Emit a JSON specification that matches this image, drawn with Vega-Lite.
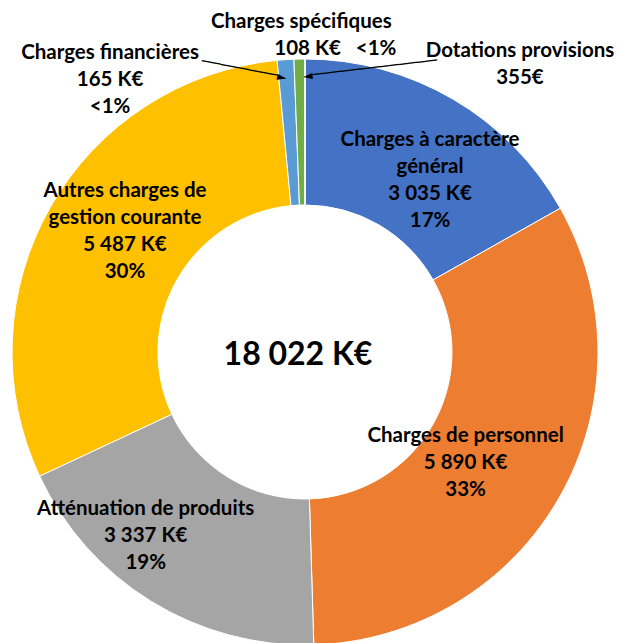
{
  "$schema": "https://vega.github.io/schema/vega-lite/v6.json",
  "width": 619,
  "height": 643,
  "autosize": "none",
  "padding": 0,
  "background": "white",
  "config": {
    "view": {"stroke": null},
    "text": {"font": "Lato", "fontWeight": "bold", "fontSize": 20.5, "lineHeight": 27, "lineBreak": "\n", "color": "black"}
  },
  "data": {
    "values": [
      {"cat": "Charges à caractère général", "value": 3035, "ord": 1, "label": "Charges à caractère\ngénéral\n3 035 K€\n17%"},
      {"cat": "Charges de personnel", "value": 5890, "ord": 2, "label": "Charges de personnel\n5 890 K€\n33%"},
      {"cat": "Atténuation de produits", "value": 3337, "ord": 3, "label": "Atténuation de produits\n3 337 K€\n19%"},
      {"cat": "Autres charges de gestion courante", "value": 5487, "ord": 4, "label": "Autres charges de\ngestion courante\n5 487 K€\n30%"},
      {"cat": "Charges financières", "value": 165, "ord": 5, "label": "Charges financières\n165 K€\n<1%"},
      {"cat": "Charges spécifiques", "value": 108, "ord": 6, "label": "Charges spécifiques", "label2": "108 K€\u00a0\u00a0\u00a0<1%"},
      {"cat": "Dotations provisions", "value": 0.355, "ord": 7, "label": "Dotations provisions\n355€"}
    ]
  },
  "layer": [
    {
      "mark": {"type": "arc", "innerRadius": 147, "outerRadius": 293, "stroke": "white", "strokeWidth": 1, "x": {"expr": "width/2 - 4.5"}, "y": {"expr": "height/2 + 30.5"}},
      "encoding": {
        "theta": {"field": "value", "type": "quantitative", "stack": true},
        "order": {"field": "ord", "type": "quantitative"},
        "color": {"field": "cat", "type": "nominal", "legend": null, "sort": null,
          "scale": {"domain": ["Charges à caractère général", "Charges de personnel", "Atténuation de produits", "Autres charges de gestion courante", "Charges financières", "Charges spécifiques", "Dotations provisions"],
                    "range": ["#4472C4", "#ED7D31", "#A5A5A5", "#FFC000", "#5B9BD5", "#70AD47", "#264478"]}}
      }
    },
    {
      "mark": {"type": "text", "radius": 220, "dx": 14, "dy": -22, "x": {"expr": "width/2 - 4.5"}, "y": {"expr": "height/2 + 30.5"}},
      "encoding": {
        "theta": {"field": "value", "type": "quantitative", "stack": true},
        "order": {"field": "ord", "type": "quantitative"},
        "text": {"condition": {"test": "datum.ord === 1", "field": "label", "type": "nominal"}, "value": ""}
      }
    },
    {
      "mark": {"type": "text", "radius": 220, "dx": -31, "dy": -24, "x": {"expr": "width/2 - 4.5"}, "y": {"expr": "height/2 + 30.5"}},
      "encoding": {
        "theta": {"field": "value", "type": "quantitative", "stack": true},
        "order": {"field": "ord", "type": "quantitative"},
        "text": {"condition": {"test": "datum.ord === 2", "field": "label", "type": "nominal"}, "value": ""}
      }
    },
    {
      "mark": {"type": "text", "radius": 220, "dx": -44, "dy": -30, "x": {"expr": "width/2 - 4.5"}, "y": {"expr": "height/2 + 30.5"}},
      "encoding": {
        "theta": {"field": "value", "type": "quantitative", "stack": true},
        "order": {"field": "ord", "type": "quantitative"},
        "text": {"condition": {"test": "datum.ord === 3", "field": "label", "type": "nominal"}, "value": ""}
      }
    },
    {
      "mark": {"type": "text", "radius": 220, "dx": 11, "dy": -52, "x": {"expr": "width/2 - 4.5"}, "y": {"expr": "height/2 + 30.5"}},
      "encoding": {
        "theta": {"field": "value", "type": "quantitative", "stack": true},
        "order": {"field": "ord", "type": "quantitative"},
        "text": {"condition": {"test": "datum.ord === 4", "field": "label", "type": "nominal"}, "value": ""}
      }
    },
    {
      "mark": {"type": "text", "radius": 300, "dx": -175, "dy": 0, "x": {"expr": "width/2 - 4.5"}, "y": {"expr": "height/2 + 30.5"}},
      "encoding": {
        "theta": {"field": "value", "type": "quantitative", "stack": true},
        "order": {"field": "ord", "type": "quantitative"},
        "text": {"condition": {"test": "datum.ord === 5", "field": "label", "type": "nominal"}, "value": ""}
      }
    },
    {
      "mark": {"type": "text", "radius": 300, "dx": 2, "dy": -30, "x": {"expr": "width/2 - 4.5"}, "y": {"expr": "height/2 + 30.5"}},
      "encoding": {
        "theta": {"field": "value", "type": "quantitative", "stack": true},
        "order": {"field": "ord", "type": "quantitative"},
        "text": {"condition": {"test": "datum.ord === 6", "field": "label", "type": "nominal"}, "value": ""}
      }
    },
    {
      "mark": {"type": "text", "radius": 300, "dx": 36, "dy": -3, "x": {"expr": "width/2 - 4.5"}, "y": {"expr": "height/2 + 30.5"}},
      "encoding": {
        "theta": {"field": "value", "type": "quantitative", "stack": true},
        "order": {"field": "ord", "type": "quantitative"},
        "text": {"condition": {"test": "datum.ord === 6", "field": "label2", "type": "nominal"}, "value": ""}
      }
    },
    {
      "mark": {"type": "text", "radius": 300, "dx": 215, "dy": -1, "x": {"expr": "width/2 - 4.5"}, "y": {"expr": "height/2 + 30.5"}},
      "encoding": {
        "theta": {"field": "value", "type": "quantitative", "stack": true},
        "order": {"field": "ord", "type": "quantitative"},
        "text": {"condition": {"test": "datum.ord === 7", "field": "label", "type": "nominal"}, "value": ""}
      }
    },
    {
      "mark": {"type": "text", "radius": 275, "align": "right", "angle": 11, "font": "DejaVu Sans Mono", "fontWeight": "normal", "fontSize": 16, "x": {"expr": "width/2 - 4.5"}, "y": {"expr": "height/2 + 30.5"}},
      "encoding": {
        "theta": {"field": "value", "type": "quantitative", "stack": true},
        "order": {"field": "ord", "type": "quantitative"},
        "text": {"condition": {"test": "datum.ord === 5", "value": "────────►"}, "value": ""}
      }
    },
    {
      "mark": {"type": "text", "radius": 276, "dx": -2, "align": "left", "angle": -6.7, "font": "DejaVu Sans Mono", "fontWeight": "normal", "fontSize": 16, "x": {"expr": "width/2 - 4.5"}, "y": {"expr": "height/2 + 30.5"}},
      "encoding": {
        "theta": {"field": "value", "type": "quantitative", "stack": true},
        "order": {"field": "ord", "type": "quantitative"},
        "text": {"condition": {"test": "datum.ord === 7", "value": "◄─────────────"}, "value": ""}
      }
    },
    {
      "data": {"values": [{"total": "18 022 K€"}]},
      "mark": {"type": "text", "fontSize": 32, "dx": -7, "dy": 3, "x": {"expr": "width/2 - 4.5"}, "y": {"expr": "height/2 + 30.5"}},
      "encoding": {"text": {"field": "total", "type": "nominal"}}
    }
  ]
}
